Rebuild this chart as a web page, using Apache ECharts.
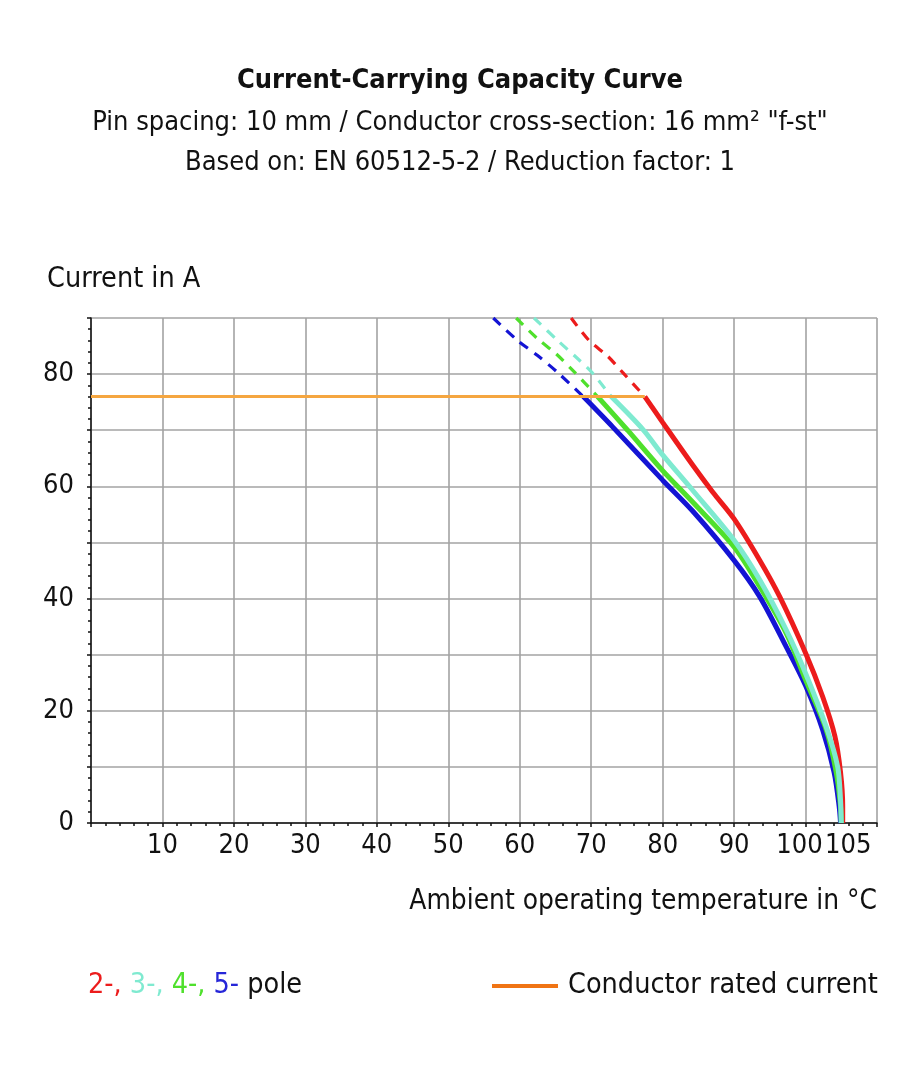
<!DOCTYPE html>
<html>
<head>
<meta charset="utf-8">
<script src="https://cdn.jsdelivr.net/npm/echarts@6/dist/echarts.min.js"></script>
<style>
html,body{margin:0;padding:0;background:#fff;}
#c{width:920px;height:1080px;}
</style>
</head>
<body>
<div id="c"></div>
<script>
// ---- data ----
const titleText = 'Current-Carrying Capacity Curve';
const subLines = ['Pin spacing: 10 mm / Conductor cross-section: 16 mm\u00b2 "f-st"', 'Based on: EN 60512-5-2 / Reduction factor: 1'];
const yName = 'Current in A';
const xName = 'Ambient operating temperature in \u00b0C';
const xTicks = [10, 20, 30, 40, 50, 60, 70, 80, 90, 100];
const xExtraTick = 105;
const yTicks = [0, 20, 40, 60, 80];

const ratedCurrent = [[0, 76], [77.5, 76]];

const pole2Dashed = [[67.2, 90], [69.7, 86], [72.3, 83.2], [74.4, 80.3], [77.5, 76]];
const pole3Dashed = [[62.0, 90], [65.3, 86], [67.9, 83], [70.1, 80.3], [72.8, 76]];
const pole4Dashed = [[59.5, 90], [62.5, 86.3], [65.1, 83.6], [67.7, 80.3], [70.9, 76]];
const pole5Dashed = [[56.3, 90], [59.7, 86], [62.5, 83.3], [65.3, 80.3], [68.9, 76]];

const pole2Solid = [[77.5, 76], [80, 71.4], [84.2, 63.8], [87, 59], [90, 54.2], [93.6, 46.8], [96.4, 40.3], [100, 30.3], [102.4, 22.5], [104.1, 15.5], [104.9, 9], [105.2, 3], [105.2, 0]];
const pole3Solid = [[72.8, 76], [77.2, 70.2], [80, 65.6], [84.2, 59.3], [90, 50.4], [93.6, 43.3], [97.3, 34.4], [100, 26.7], [102.9, 17.1], [104.5, 10], [104.9, 4], [105, 0]];
const pole4Solid = [[70.9, 76], [75.1, 70], [80, 62.8], [84.2, 57.2], [90, 49.2], [93.6, 42.1], [97.3, 33.8], [100, 25.5], [102.9, 16.6], [104.3, 9], [104.9, 3], [105, 0]];
const pole5Solid = [[68.9, 76], [73, 70.6], [80, 61.1], [84.2, 55.6], [90, 46.8], [93.6, 40.3], [97.3, 31.4], [100, 24.5], [102.4, 16.6], [104, 9], [104.7, 3], [104.9, 0]];

const colors = { p2: '#ec1c1c', p3: '#7fead0', p4: '#4fe02c', p5: '#1414d4', rated: '#f5a640', ratedLegend: '#f07414' };

// ---- chart ----
const FONT = "'DejaVu Sans Condensed','Liberation Sans Narrow',sans-serif";
const chart = echarts.init(document.getElementById('c'), null, { renderer: 'canvas' });

function solid(name, data, color) {
  return { name, type: 'line', data, smooth: 0.3, symbol: 'none',
    lineStyle: { color, width: 5 }, z: 3 };
}
function dashed(name, data, color) {
  return { name, type: 'line', data, smooth: 0.3, symbol: 'none',
    lineStyle: { color, width: 3.2, type: [10, 8] }, z: 3 };
}

const option = {
  backgroundColor: '#fff',
  animation: false,
  textStyle: { fontFamily: FONT },
  title: {
    text: titleText,
    subtext: subLines.join('\n'),
    left: 'center',
    top: 58,
    itemGap: 4,
    textStyle: { fontFamily: FONT, fontSize: 27, fontWeight: 'bold', color: '#111', lineHeight: 36 },
    subtextStyle: { fontFamily: FONT, fontSize: 27, color: '#111', lineHeight: 40 }
  },
  grid: { left: 91, right: 43, top: 318, bottom: 257, containLabel: false },
  xAxis: [{
    type: 'value', min: 0, max: 110, interval: 10,
    axisLine: { show: true, onZero: false, lineStyle: { color: '#111', width: 1.5 } },
    axisTick: { show: true, length: 4, lineStyle: { color: '#111', width: 1.5 } },
    minorTick: { show: true, splitNumber: 5, length: 3, lineStyle: { color: '#111', width: 1.5 } },
    axisLabel: { margin: 9, fontSize: 27, color: '#111', fontFamily: FONT,
      formatter: v => v === 100 ? '{l|100}' : (xTicks.indexOf(v) >= 0 ? String(v) : ''),
      rich: { l: { fontSize: 27, fontFamily: FONT, color: '#111', padding: [0, 12, 0, 0] } } },
    splitLine: { show: true, lineStyle: { color: '#a3a3a3', width: 1.6 } }
  }, {
    type: 'value', min: 0, max: 110, interval: 5, position: 'bottom',
    axisLine: { show: false }, axisTick: { show: false }, splitLine: { show: false },
    axisLabel: { margin: 9, fontSize: 27, color: '#111', fontFamily: FONT,
      formatter: v => v === xExtraTick ? '{r|' + v + '}' : '',
      rich: { r: { fontSize: 27, fontFamily: FONT, color: '#111', padding: [0, 0, 0, 14] } } }
  }],
  yAxis: {
    type: 'value', min: 0, max: 90, interval: 10,
    axisLine: { show: true, lineStyle: { color: '#111', width: 1.5 } },
    axisTick: { show: true, length: 4, lineStyle: { color: '#111', width: 1.5 } },
    minorTick: { show: true, splitNumber: 5, length: 3, lineStyle: { color: '#111', width: 1.5 } },
    axisLabel: { margin: 17, fontSize: 27, color: '#111', fontFamily: FONT,
      formatter: v => yTicks.indexOf(v) >= 0 ? String(v) : '' },
    splitLine: { show: true, lineStyle: { color: '#a3a3a3', width: 1.6 } }
  },
  graphic: [
    { type: 'text', left: 47, top: 265, style: { text: yName, font: '28.5px ' + FONT, fill: '#111' } },
    { type: 'text', right: 43, top: 888, style: { text: xName, font: '27.8px ' + FONT, fill: '#111' } },
    { type: 'text', left: 88, top: 971, style: {
        text: '{a|2-,} {b|3-,} {c|4-,} {d|5-} {e|pole}',
        font: '28.5px ' + FONT,
        rich: {
          a: { fill: colors.p2, fontSize: 28.5, fontFamily: FONT },
          b: { fill: colors.p3, fontSize: 28.5, fontFamily: FONT },
          c: { fill: colors.p4, fontSize: 28.5, fontFamily: FONT },
          d: { fill: '#2626d8', fontSize: 28.5, fontFamily: FONT },
          e: { fill: '#111', fontSize: 28.5, fontFamily: FONT }
        }
      } },
    { type: 'line', shape: { x1: 492, y1: 986, x2: 558, y2: 986 }, style: { stroke: colors.ratedLegend, lineWidth: 4 } },
    { type: 'text', left: 568, top: 971, style: { text: 'Conductor rated current', font: '28.5px ' + FONT, fill: '#111' } }
  ],
  series: [
    dashed('2-pole', pole2Dashed, colors.p2),
    solid('2-pole', pole2Solid, colors.p2),
    dashed('5-pole', pole5Dashed, colors.p5),
    solid('5-pole', pole5Solid, colors.p5),
    dashed('4-pole', pole4Dashed, colors.p4),
    solid('4-pole', pole4Solid, colors.p4),
    dashed('3-pole', pole3Dashed, colors.p3),
    solid('3-pole', pole3Solid, colors.p3),
    { name: 'Conductor rated current', type: 'line', data: ratedCurrent, symbol: 'none',
      lineStyle: { color: colors.rated, width: 3 }, z: 4 }
  ]
};
chart.setOption(option);
</script>
</body>
</html>
